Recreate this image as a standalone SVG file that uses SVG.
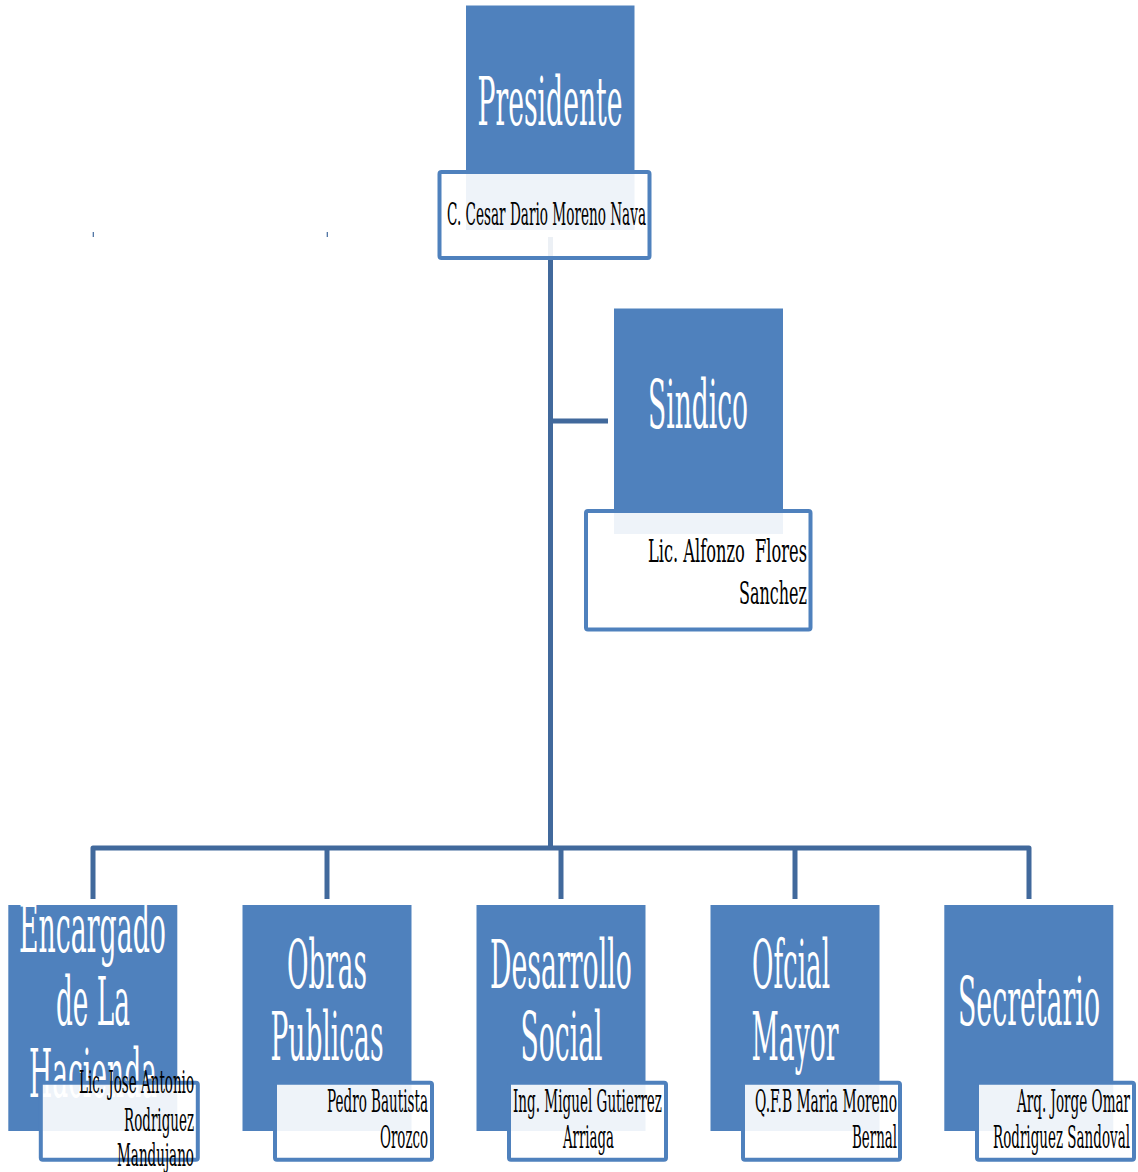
<svg xmlns="http://www.w3.org/2000/svg" width="1138" height="1172" viewBox="0 0 1138 1172">
<style>
.blue{fill:#4f81bd;}
.box{fill:#ffffff;fill-opacity:0.9;stroke:#4f81bd;stroke-width:4;}
.title{font-family:"DejaVu Serif","Liberation Serif",serif;font-size:67px;fill:#ffffff;text-anchor:middle;}
.name{font-family:"DejaVu Serif","Liberation Serif",serif;font-size:31px;fill:#000000;}
.conn{fill:none;stroke:#41699c;stroke-width:5;stroke-linejoin:round;}
.tick{stroke:#41699c;stroke-width:1.2;}
</style>
<rect width="1138" height="1172" fill="#ffffff"/>
<g id="connectors">
<path class="conn" d="M550.5,237 V848"/>
<path class="conn" d="M550,421 H608"/>
<path class="conn" d="M93,899 V848 H1029 V899"/>
<path class="conn" d="M327,848 V899"/>
<path class="conn" d="M561,848 V899"/>
<path class="conn" d="M795,848 V899"/>
<line class="tick" x1="93.3" y1="232" x2="93.3" y2="237"/>
<line class="tick" x1="327.3" y1="232" x2="327.3" y2="237"/>
</g>
<g id="presidente">
<rect class="blue" x="466" y="5.5" width="168.5" height="224.5"/>
<text class="title" x="550" y="125" textLength="145" lengthAdjust="spacingAndGlyphs">Presidente</text>
<rect class="box" x="439.5" y="172" width="210" height="86" rx="2"/>
<text class="name" x="447" y="225" font-size="34" textLength="199" lengthAdjust="spacingAndGlyphs">C. Cesar Dario Moreno Nava</text>
</g>
<g id="sindico">
<rect class="blue" x="614" y="308.5" width="169" height="225.5"/>
<text class="title" x="698" y="428" textLength="100" lengthAdjust="spacingAndGlyphs">Sindico</text>
<rect class="box" x="586" y="511" width="224.5" height="118.5" rx="2"/>
<text class="name" x="648" y="562" font-size="42" textLength="159" lengthAdjust="spacingAndGlyphs" xml:space="preserve">Lic. Alfonzo  Flores</text>
<text class="name" x="739" y="604" font-size="42" textLength="68" lengthAdjust="spacingAndGlyphs">Sanchez</text>
</g>
<g id="hacienda">
<rect class="blue" x="8.3" y="905" width="169" height="226"/>
<text class="title" x="92.5" y="952" textLength="147" lengthAdjust="spacingAndGlyphs">Encargado</text>
<text class="title" x="93" y="1025" textLength="74" lengthAdjust="spacingAndGlyphs">de La</text>
<text class="title" x="93" y="1097" textLength="128" lengthAdjust="spacingAndGlyphs">Hacienda</text>
<rect class="box" x="40.8" y="1082.7" width="157" height="77" rx="2"/>
<text class="name" x="79" y="1093" textLength="115" lengthAdjust="spacingAndGlyphs">Lic. Jose Antonio</text>
<text class="name" x="124" y="1131" textLength="70" lengthAdjust="spacingAndGlyphs">Rodriguez</text>
<text class="name" x="117" y="1166" textLength="77" lengthAdjust="spacingAndGlyphs">Mandujano</text>
</g>
<g id="obras">
<rect class="blue" x="242.5" y="905" width="169" height="226"/>
<text class="title" x="327" y="988" textLength="80" lengthAdjust="spacingAndGlyphs">Obras</text>
<text class="title" x="327" y="1060" textLength="113" lengthAdjust="spacingAndGlyphs">Publicas</text>
<rect class="box" x="275" y="1082.7" width="157" height="77" rx="2"/>
<text class="name" x="327" y="1112" textLength="101" lengthAdjust="spacingAndGlyphs">Pedro Bautista</text>
<text class="name" x="380" y="1148" textLength="48" lengthAdjust="spacingAndGlyphs">Orozco</text>
</g>
<g id="desarrollo">
<rect class="blue" x="476.5" y="905" width="169" height="226"/>
<text class="title" x="561" y="988" textLength="142" lengthAdjust="spacingAndGlyphs">Desarrollo</text>
<text class="title" x="561.5" y="1060" textLength="82" lengthAdjust="spacingAndGlyphs">Social</text>
<rect class="box" x="509" y="1082.7" width="157" height="77" rx="2"/>
<text class="name" x="513" y="1112" textLength="149" lengthAdjust="spacingAndGlyphs">Ing. Miguel Gutierrez</text>
<text class="name" x="563" y="1148" textLength="51" lengthAdjust="spacingAndGlyphs">Arriaga</text>
</g>
<g id="oficial">
<rect class="blue" x="710.5" y="905" width="169" height="226"/>
<text class="title" x="791" y="988" textLength="78" lengthAdjust="spacingAndGlyphs">Ofcial</text>
<text class="title" x="795" y="1060" textLength="87" lengthAdjust="spacingAndGlyphs">Mayor</text>
<rect class="box" x="743" y="1082.7" width="157" height="77" rx="2"/>
<text class="name" x="755" y="1112" textLength="142" lengthAdjust="spacingAndGlyphs">Q.F.B Maria Moreno</text>
<text class="name" x="852" y="1148" textLength="45" lengthAdjust="spacingAndGlyphs">Bernal</text>
</g>
<g id="secretario">
<rect class="blue" x="944.3" y="905" width="169" height="226"/>
<text class="title" x="1029" y="1025" textLength="142" lengthAdjust="spacingAndGlyphs">Secretario</text>
<rect class="box" x="977" y="1082.7" width="157" height="77" rx="2"/>
<text class="name" x="1017" y="1112" textLength="113" lengthAdjust="spacingAndGlyphs">Arq. Jorge Omar</text>
<text class="name" x="993" y="1148" textLength="137" lengthAdjust="spacingAndGlyphs">Rodriguez Sandoval</text>
</g>
</svg>
